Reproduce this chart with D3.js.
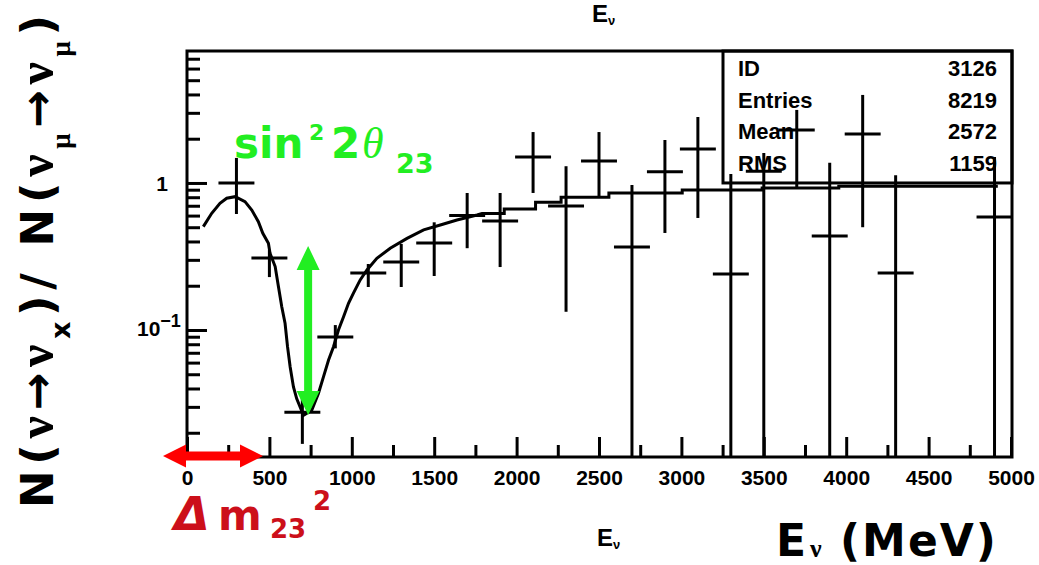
<!DOCTYPE html>
<html>
<head>
<meta charset="utf-8">
<script src="https://cdn.jsdelivr.net/npm/d3@7"></script>
<style>
  body { margin: 0; background: #fff; }
  svg { display: block; }
</style>
</head>
<body>
<div id="chart"></div>
<script>
// histogram ratio points (bin centres, MeV) and their error bar ends
var binWidth = 200;
var binE   = [300, 500, 700, 900, 1100, 1300, 1500, 1700, 1900, 2100, 2300, 2500, 2700, 2900, 3100, 3300, 3500, 3700, 3900, 4100, 4300, 4900];
var binVal = [1.0, 0.309, 0.0276, 0.0897, 0.244, 0.29, 0.39, 0.60, 0.551, 1.50, 0.697, 1.41, 0.367, 1.19, 1.70, 0.240, 1.2, 2.29, 0.436, 2.15, 0.244, 0.587];
var binHi  = [1.48, 0.35, 0.0373, 0.108, 0.281, 0.385, 0.54, 0.855, 0.855, 2.22, 1.30, 2.22, 0.97, 1.96, 2.81, 1.15, 1.6, 3.14, 1.37, 3.97, 1.13, 1.50];
var binLo  = [0.615, 0.229, 0.0168, 0.075, 0.196, 0.196, 0.233, 0.36, 0.268, 0.855, 0.133, 0.80, 0, 0.457, 0.578, 0, 0, 0.92, 0, 0.50, 0, 0];

// expected oscillation curve
var curveE = [99, 150, 200, 241, 292, 352, 393, 433, 460, 494, 504, 535, 555, 575, 595, 610, 626, 646, 666, 707, 757, 798, 828, 859, 889, 919, 950, 980, 1010, 1051, 1092, 1152, 1233, 1335, 1436, 1537, 1638, 1760, 1790, 1925, 1925, 2115, 2115, 2270, 2270, 2560, 2560, 3005, 3005, 3490, 3490, 3955, 3955, 4920];
var curveR = [0.505, 0.622, 0.727, 0.787, 0.807, 0.746, 0.655, 0.545, 0.455, 0.389, 0.332, 0.27, 0.197, 0.144, 0.111, 0.077, 0.056, 0.041, 0.034, 0.0263, 0.0285, 0.0371, 0.048, 0.0625, 0.077, 0.1, 0.123, 0.152, 0.178, 0.219, 0.256, 0.307, 0.36, 0.42, 0.48, 0.518, 0.56, 0.606, 0.62, 0.62, 0.665, 0.665, 0.74, 0.74, 0.80, 0.80, 0.855, 0.855, 0.896, 0.896, 0.925, 0.925, 0.95, 0.95];

var xMajor = [0, 500, 1000, 1500, 2000, 2500, 3000, 3500, 4000, 4500, 5000];
var xMinor = [250, 750, 1250, 1750, 2250, 2750, 3250, 3750, 4250, 4750];
var yMajor = [0.1, 1];
var yMinor = [0.02, 0.03, 0.04, 0.05, 0.06, 0.07, 0.08, 0.09, 0.2, 0.3, 0.4, 0.5, 0.6, 0.7, 0.8, 0.9, 2, 3, 4, 5, 6, 7];

var statNames  = ["ID", "Entries", "Mean", "RMS"];
var statValues = ["3126", "8219", "2572", "1159"];

var W = 1039, H = 565;
var frame = {left: 187, right: 1012, top: 51, bottom: 457};

var svg = d3.select("#chart").append("svg").attr("width", W).attr("height", H);

var x = d3.scaleLinear().domain([0, 5000]).range([frame.left, frame.right - 1]);
var y = d3.scaleLog().domain([0.01368, 7.9]).range([frame.bottom, frame.top]);

svg.append("clipPath").attr("id", "plotClip").append("rect")
    .attr("x", frame.left).attr("y", frame.top)
    .attr("width", frame.right - frame.left).attr("height", frame.bottom - frame.top);

var labelFont = "'Liberation Sans', Arial, sans-serif";

// x axis ticks pointing up into the frame
var xAxisMajor = d3.axisBottom(x).tickValues(xMajor).tickSize(-20).tickPadding(13).tickFormat(d3.format("d"));
var gx = svg.append("g").attr("transform", "translate(0," + frame.bottom + ")").call(xAxisMajor);
gx.select(".domain").remove();
gx.selectAll("line").attr("stroke", "#000").attr("stroke-width", 3);
gx.selectAll("text").attr("fill", "#000").style("font-family", labelFont)
    .style("font-size", "21px").style("font-weight", "bold");

var gxm = svg.append("g").attr("transform", "translate(0," + frame.bottom + ")")
    .call(d3.axisBottom(x).tickValues(xMinor).tickSize(-12).tickFormat(""));
gxm.select(".domain").remove();
gxm.selectAll("line").attr("stroke", "#000").attr("stroke-width", 3);

// y axis (log)
var gy = svg.append("g").attr("transform", "translate(" + frame.left + ",0)")
    .call(d3.axisLeft(y).tickValues(yMajor).tickSize(-20).tickFormat(""));
gy.select(".domain").remove();
gy.selectAll("line").attr("stroke", "#000").attr("stroke-width", 3);

var gym = svg.append("g").attr("transform", "translate(" + frame.left + ",0)")
    .call(d3.axisLeft(y).tickValues(yMinor).tickSize(-13).tickFormat(""));
gym.select(".domain").remove();
gym.selectAll("line").attr("stroke", "#000").attr("stroke-width", 3);

var yl = svg.append("g").style("font-family", labelFont).style("font-weight", "bold").attr("fill", "#000");
yl.append("text").attr("x", 168).attr("y", y(1) + 8).attr("text-anchor", "end")
    .style("font-size", "21px").text("1");
var t10 = yl.append("text").attr("x", 137).attr("y", y(0.1) + 6).style("font-size", "21px");
t10.append("tspan").text("10");
t10.append("tspan").attr("dy", -9).style("font-size", "18px").text("\u22121");

// frame
svg.append("rect")
    .attr("x", frame.left).attr("y", frame.top)
    .attr("width", frame.right - frame.left).attr("height", frame.bottom - frame.top)
    .attr("fill", "none").attr("stroke", "#000").attr("stroke-width", 3);

// stats box
var box = {left: 723, bottom: 1.0};
svg.append("rect")
    .attr("x", box.left).attr("y", frame.top)
    .attr("width", frame.right - box.left).attr("height", y(box.bottom) - frame.top)
    .attr("fill", "none").attr("stroke", "#000").attr("stroke-width", 3);

var sg = svg.append("g").style("font-family", labelFont).style("font-weight", "bold")
    .style("font-size", "22px").attr("fill", "#000");
statNames.forEach(function(n, i){
    var yy = 76 + i * 31.5;
    sg.append("text").attr("x", 738).attr("y", yy).text(n);
    sg.append("text").attr("x", 997).attr("y", yy).attr("text-anchor", "end").text(statValues[i]);
});

var plot = svg.append("g").attr("clip-path", "url(#plotClip)");

// expected curve
var curvePts = curveE.map(function(e, i){ return [e, curveR[i]]; });
plot.append("path")
    .attr("d", d3.line().x(function(d){ return x(d[0]); }).y(function(d){ return y(d[1]); })(curvePts))
    .attr("fill", "none").attr("stroke", "#000").attr("stroke-width", 3);

// data crosses
var yMin = y.domain()[0];
var pts = binE.map(function(e, i){ return {e: e, v: binVal[i], hi: binHi[i], lo: binLo[i]}; });
var cross = plot.selectAll("g.cross").data(pts).enter().append("g").attr("class", "cross");
cross.append("line")
    .attr("x1", function(d){ return x(d.e - binWidth / 2); })
    .attr("x2", function(d){ return x(d.e + binWidth / 2); })
    .attr("y1", function(d){ return y(d.v); })
    .attr("y2", function(d){ return y(d.v); })
    .attr("stroke", "#000").attr("stroke-width", 3).attr("stroke-linecap", "square");
cross.append("line")
    .attr("x1", function(d){ return x(d.e); })
    .attr("x2", function(d){ return x(d.e); })
    .attr("y1", function(d){ return y(d.hi); })
    .attr("y2", function(d){ return y(Math.max(d.lo, yMin)); })
    .attr("stroke", "#000").attr("stroke-width", 3);

// double arrow helper
var doubleArrow = function(x1, y1, x2, y2, shaft, head, headLen){
    var dx = x2 - x1, dy = y2 - y1, L = Math.sqrt(dx * dx + dy * dy);
    var ux = dx / L, uy = dy / L, nx = -uy, ny = ux;
    var p = function(t, s){ return [x1 + ux * t + nx * s, y1 + uy * t + ny * s]; };
    return [p(0, 0), p(headLen, head / 2), p(headLen, shaft / 2), p(L - headLen, shaft / 2),
            p(L - headLen, head / 2), p(L, 0), p(L - headLen, -head / 2), p(L - headLen, -shaft / 2),
            p(headLen, -shaft / 2), p(headLen, -head / 2)];
};

var green = "#22ee22";
var greenArrow = doubleArrow(x(735), y(0.373), x(735), y(0.0264), 8, 23, 24);
svg.append("polygon").attr("points", greenArrow.join(" ")).attr("fill", green);

var redArrow = doubleArrow(163, 456, 263, 456, 9, 23, 23);
svg.append("polygon").attr("points", redArrow.join(" ")).attr("fill", "#ff0000");

// sin^2 2theta_23
var bold = "'DejaVu Sans', Verdana, sans-serif";
var serif = "'Liberation Serif', 'Times New Roman', serif";
var ann = svg.append("g").attr("fill", green).style("font-family", bold).style("font-weight", "bold");
ann.append("text").attr("x", 234).attr("y", 158).style("font-size", "42px").text("sin");
ann.append("text").attr("x", 309).attr("y", 140).style("font-size", "22px").text("2");
ann.append("text").attr("x", 331).attr("y", 158).style("font-size", "42px").text("2");
ann.append("text").attr("x", 362).attr("y", 158).style("font-family", serif).style("font-weight", "normal")
    .style("font-style", "italic").style("font-size", "44px").text("\u03b8");
ann.append("text").attr("x", 396).attr("y", 173).style("font-size", "27px").text("23");

// Delta m^2_23
var red = "#cc0f1a";
var dm = svg.append("g").attr("fill", red).style("font-family", bold).style("font-weight", "bold");
dm.append("text").attr("x", 174).attr("y", 530).style("font-style", "italic").style("font-size", "46px").text("\u0394");
dm.append("text").attr("x", 218).attr("y", 530).style("font-size", "42px").text("m");
dm.append("text").attr("x", 270).attr("y", 538).style("font-size", "26px").text("23");
dm.append("text").attr("x", 313).attr("y", 510).style("font-size", "26px").text("2");

// x title
var xt = svg.append("g").attr("fill", "#000").style("font-family", bold).style("font-weight", "bold");
xt.append("text").attr("x", 776).attr("y", 556).style("font-size", "44px").text("E");
xt.append("text").attr("x", 810).attr("y", 557).style("font-family", serif).style("font-size", "26px").text("\u03bd");
xt.append("text").attr("x", 840).attr("y", 556).style("font-size", "44px").style("letter-spacing", "2px").text("(MeV)");

// small ROOT titles
var small = svg.append("g").attr("fill", "#000").style("font-family", labelFont).style("font-weight", "bold");
[[592, 22], [597, 546]].forEach(function(p){
    var t = small.append("text").attr("x", p[0]).attr("y", p[1]).style("font-size", "24px");
    t.append("tspan").text("E");
    t.append("tspan").attr("dy", 3).style("font-size", "13px").text("\u03bd");
});

// y title, rotated
var yt = svg.append("text").attr("transform", "translate(53,508) rotate(-90)")
    .attr("textLength", 493).attr("lengthAdjust", "spacing")
    .attr("fill", "#000").style("font-family", bold).style("font-weight", "bold").style("font-size", "45px");
var part = function(txt, opt){
    var s = yt.append("tspan").text(txt);
    if (opt && opt.serif) s.style("font-family", serif);
    if (opt && opt.size) s.style("font-size", opt.size + "px");
    if (opt && opt.dy) s.attr("dy", opt.dy);
    return s;
};
part("N");
part("(");
part("\u03bd", {serif: true, size: 50});
part("\u2192");
part("\u03bd", {serif: true, size: 50});
part("x", {size: 27, dy: 17});
part(")", {dy: -17});
part("/ ");
part("N");
part("(");
part("\u03bd", {serif: true, size: 50});
part("\u03bc", {serif: true, size: 27, dy: 17});
part("\u2192", {dy: -17});
part("\u03bd", {serif: true, size: 50});
part("\u03bc", {serif: true, size: 27, dy: 17});
part(")", {dy: -17});
</script>
</body>
</html>
